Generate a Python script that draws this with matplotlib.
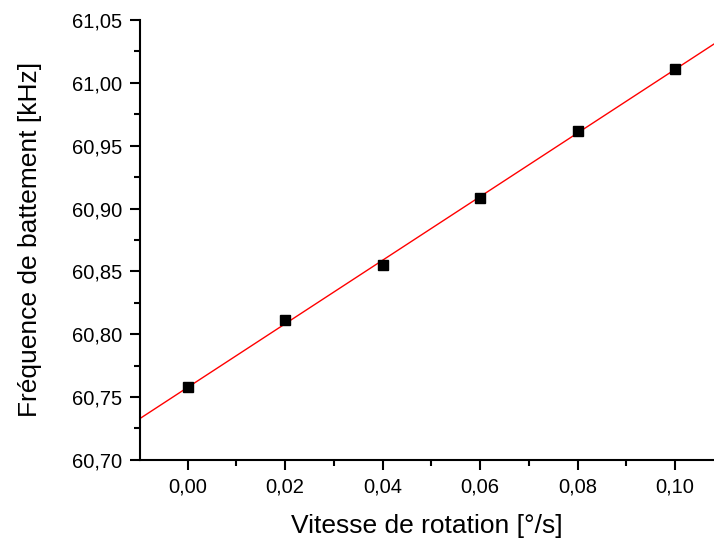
import matplotlib
matplotlib.use("Agg")
import matplotlib.pyplot as plt
import numpy as np
from matplotlib.ticker import MultipleLocator, FuncFormatter

plt.rcParams["font.family"] = ["Liberation Sans", "DejaVu Sans"]

# rotation speed [deg/s] and beat frequency [kHz]
vitesse = [0.00, 0.02, 0.04, 0.06, 0.08, 0.10]
frequence = [60.758, 60.811, 60.855, 60.908, 60.962, 61.011]

XLIM = (-0.0098, 0.108)
YLIM = (60.70, 61.05)

# linear fit drawn across the full x range
pente, origine = np.polyfit(vitesse, frequence, 1)
x_fit = np.array(XLIM)
y_fit = pente * x_fit + origine

fig = plt.figure(figsize=(7.14, 5.41), dpi=100)
ax = fig.add_axes([0.196, 0.150, 0.804, 0.813])

ax.plot(x_fit, y_fit, "-", color="red", lw=1.0, zorder=2)
ax.plot(vitesse, frequence, "s", color="black", ms=6.5, zorder=3)

ax.set_xlim(*XLIM)
ax.set_ylim(*YLIM)

ax.xaxis.set_major_locator(MultipleLocator(0.02))
ax.xaxis.set_minor_locator(MultipleLocator(0.01))
ax.yaxis.set_major_locator(MultipleLocator(0.05))
ax.yaxis.set_minor_locator(MultipleLocator(0.025))
comma = lambda v, _: f"{v:.2f}".replace(".", ",")
ax.xaxis.set_major_formatter(FuncFormatter(comma))
ax.yaxis.set_major_formatter(FuncFormatter(comma))

for side in ("top", "right"):
    ax.spines[side].set_visible(False)
for side in ("left", "bottom"):
    ax.spines[side].set_linewidth(1.5)

ax.tick_params(which="major", direction="out", length=7, width=1.5, labelsize=14.5, pad=5.5)
ax.tick_params(which="minor", direction="out", length=4, width=1.5)

ax.set_xlabel("Vitesse de rotation [°/s]", fontsize=19, labelpad=13)
ax.set_ylabel("Fréquence de battement [kHz]", fontsize=19, labelpad=22)

fig.savefig("out.png", dpi=100)
